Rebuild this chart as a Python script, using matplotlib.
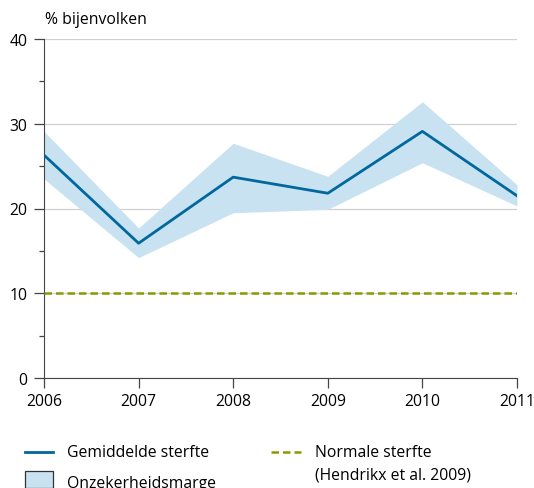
import matplotlib
matplotlib.use("Agg")
import matplotlib.pyplot as plt
from matplotlib.lines import Line2D
from matplotlib.patches import Rectangle

# data
jaren = [2006, 2007, 2008, 2009, 2010, 2011]
gemiddeld = [26.3, 15.9, 23.7, 21.8, 29.1, 21.5]
boven = [29.1, 17.7, 27.7, 23.8, 32.6, 22.8]
onder = [23.5, 14.2, 19.5, 19.9, 25.4, 20.3]
normaal = 10

blauw = "#00689c"
band = "#c9e2f1"
olijf = "#8a9a00"
as_kleur = "#444444"
fs = 11.3

plt.rcParams['font.family'] = ['Open Sans', 'DejaVu Sans']

fig = plt.figure(figsize=(5.34, 4.89), dpi=100)
ax = fig.add_axes([44 / 534, 110 / 489, 473 / 534, 339 / 489])

ax.fill_between(jaren, onder, boven, color=band, lw=0, zorder=1)
ax.plot(jaren, gemiddeld, color=blauw, lw=2.0, zorder=3)
ax.axhline(normaal, color=olijf, lw=1.8, ls=(0, (3, 1.6)), zorder=3)

ax.set_xlim(2006, 2011)
ax.set_ylim(0, 40)
ax.set_yticks([0, 10, 20, 30, 40])
ax.set_yticks([5, 15, 25, 35], minor=True)
ax.set_xticks(jaren)
ax.grid(axis='y', color='#d0d0d0', lw=0.9, zorder=0)
ax.set_axisbelow(True)
for s in ['top', 'right']:
    ax.spines[s].set_visible(False)
ax.spines['left'].set_color(as_kleur)
ax.spines['bottom'].set_color(as_kleur)
ax.tick_params(axis='both', which='both', color=as_kleur, labelsize=fs, width=0.9)
ax.tick_params(axis='y', which='major', length=7, pad=5)
ax.tick_params(axis='y', which='minor', length=3.5)
ax.tick_params(axis='x', which='major', length=7, direction='out', pad=4)

fig.text(45 / 534, 1 - 20 / 489, "% bijenvolken", fontsize=fs, va='center', ha='left')

# legend, hand placed below the plot
def fy(p):
    return 1 - p / 489

fig.add_artist(Line2D([25 / 534, 53 / 534], [fy(453)] * 2, color=blauw, lw=2.0))
fig.text(67 / 534, fy(453), "Gemiddelde sterfte", fontsize=fs, va='center')
fig.add_artist(Rectangle((25 / 534, fy(489)), 28 / 534, 17 / 489, facecolor=band,
                         edgecolor='#333333', lw=0.9))
fig.text(67 / 534, fy(484), "Onzekerheidsmarge", fontsize=fs, va='center')
fig.add_artist(Line2D([271 / 534, 301 / 534], [fy(453)] * 2, color=olijf, lw=1.8,
                      ls=(0, (3, 1.6))))
fig.text(315 / 534, fy(453), "Normale sterfte", fontsize=fs, va='center')
fig.text(315 / 534, fy(476), "(Hendrikx et al. 2009)", fontsize=fs, va='center')

fig.savefig("out.png", dpi=100)
